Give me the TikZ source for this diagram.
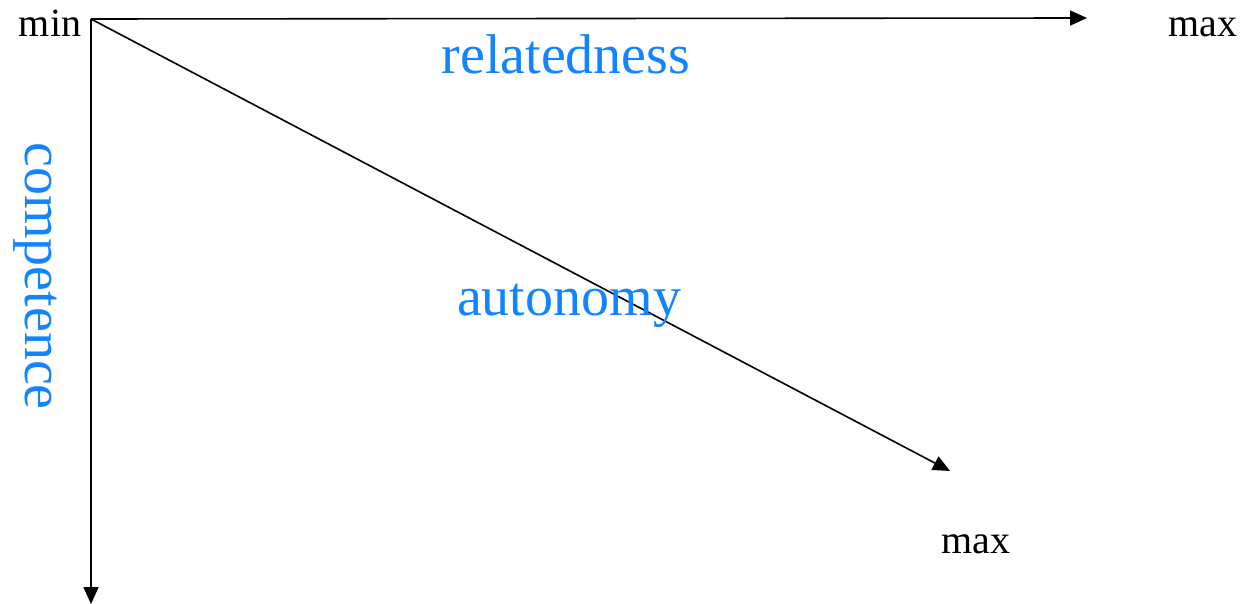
\documentclass[tikz,border=0pt]{standalone}
\usepackage{fontspec}
\setmainfont{Liberation Serif}
\usetikzlibrary{arrows.meta}
\definecolor{needblue}{RGB}{18,132,255}
\tikzset{
  axislabel/.style={font=\fontsize{40}{40}\selectfont, inner sep=0pt, anchor=base},
  needlabel/.style={font=\fontsize{56}{56}\selectfont, text=needblue, inner sep=0pt, anchor=base}
}
\begin{document}
\begin{tikzpicture}[x=1pt,y=-1pt,line width=1.6pt,>={Triangle[length=17pt,width=15pt]}]
\useasboundingbox (0,0) rectangle (1245,604);
\coordinate (origin) at (91,19);
\coordinate (relmax) at (1087,18);
\coordinate (compmax) at (91,604);
\coordinate (automax) at (950,471);

\draw[->] (origin)--(relmax);
\draw[->] (origin)--(compmax);
\draw[->] (origin)--(automax);

\node[axislabel] (min) at (50,37) {min};
\node[axislabel] (maxrel) at (1203,37) {max};
\node[axislabel] (maxauto) at (976,553) {max};

\node[needlabel] (related) at (566,74) {relatedness};
\node[needlabel] (autonomy) at (569,315) {autonomy};
\node[needlabel, rotate=-90] (competence) at (25,276) {competence};
\end{tikzpicture}
\end{document}
